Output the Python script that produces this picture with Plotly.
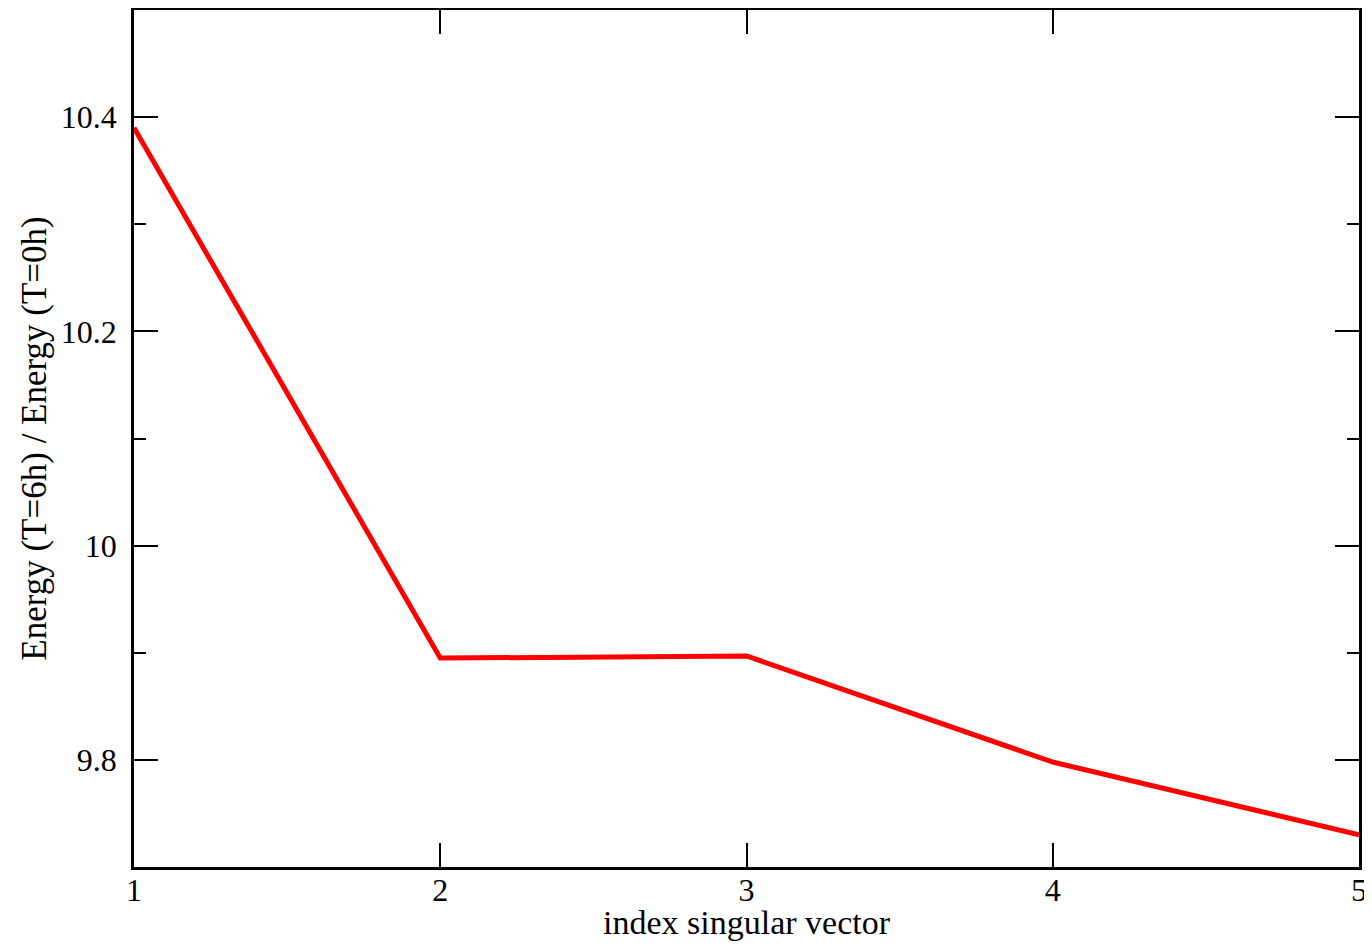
import plotly.graph_objects as go

x_index = [1, 2, 3, 4, 5]
energy_ratio = [10.39, 9.895, 9.897, 9.798, 9.730]

x_ticks = [1, 2, 3, 4, 5]
y_ticks = [9.8, 10.0, 10.2, 10.4]
y_tick_labels = ["9.8", "10", "10.2", "10.4"]

fig = go.Figure()
fig.add_trace(go.Scatter(x=x_index, y=energy_ratio, mode="lines",
                         line=dict(color="#ff0000", width=5), showlegend=False))

tick_font = dict(family="Liberation Serif, DejaVu Serif, serif", size=32, color="black")
title_font = dict(family="Liberation Serif, DejaVu Serif, serif", size=34, color="black")
ytitle_font = dict(family="Liberation Serif, DejaVu Serif, serif", size=35, color="black")

fig.update_layout(
    width=1364, height=933,
    margin=dict(l=126, r=13, t=2, b=74),
    paper_bgcolor="white", plot_bgcolor="white",
    font=tick_font,
)
fig.update_xaxes(
    range=[1, 5], tickvals=x_ticks, ticktext=[str(v) for v in x_ticks],
    ticks="inside", ticklen=24, tickwidth=2, tickcolor="black",
    showline=True, linecolor="black", linewidth=2.5, mirror="ticks",
    showgrid=False, zeroline=False, ticklabeloverflow="allow",
    ticklabelstandoff=-7, automargin=False,
    title=dict(text="index singular vector", standoff=10, font=title_font),
    tickfont=tick_font,
)
fig.update_yaxes(
    range=[9.7, 10.5], tickvals=y_ticks, ticktext=y_tick_labels,
    ticks="inside", ticklen=24, tickwidth=2, tickcolor="black",
    minor=dict(ticks="inside", ticklen=12, tickwidth=2, tickcolor="black", dtick=0.1, tick0=9.7),
    showline=True, linecolor="black", linewidth=2.5, mirror="ticks",
    showgrid=False, zeroline=False, ticklabelstandoff=8, automargin=False,
    title=dict(text="Energy (T=6h) / Energy (T=0h)", standoff=4, font=ytitle_font),
    tickfont=tick_font,
)
fig.write_html("out.html", config={"displayModeBar": False})
